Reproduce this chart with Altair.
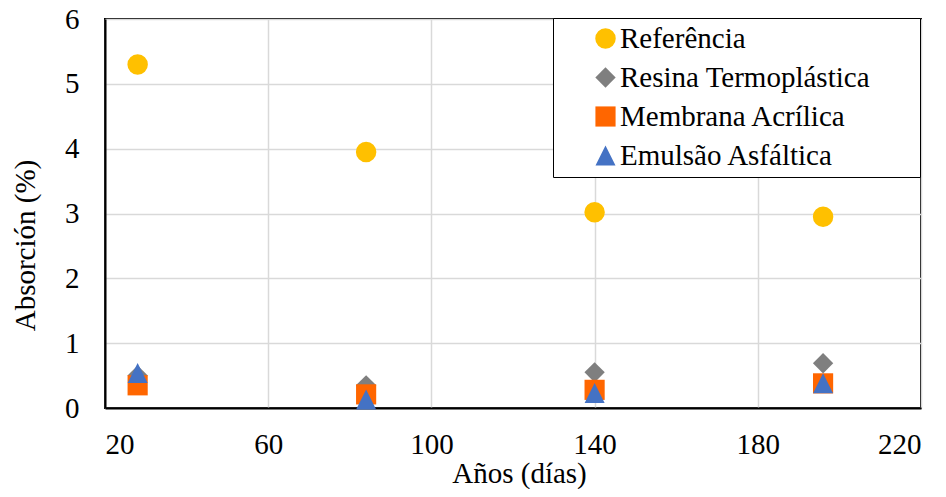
import altair as alt
import pandas as pd

days = [28, 84, 140, 196]
series_names = ["Referência", "Resina Termoplástica", "Membrana Acrílica", "Emulsão Asfáltica"]
referencia = [5.30, 3.95, 3.02, 2.95]
resina = [0.50, 0.35, 0.55, 0.69]
membrana = [0.35, 0.21, 0.28, 0.38]
emulsao = [0.54, 0.13, 0.23, 0.38]

colors = ["#FFC000", "#7F7F7F", "#FF6600", "#4472C4"]
shapes = ["circle", "diamond", "square", "M0,-1L-1,1L1,1Z"]
sizes = [420, 400, 400, 400]

rows = []
for i, (name, vals) in enumerate(zip(series_names, [referencia, resina, membrana, emulsao])):
    for d, v in zip(days, vals):
        rows.append({"dias": d, "abs": v, "serie": name, "order": i})
df = pd.DataFrame(rows)

font = "Liberation Serif"
fs = 29

chart = alt.Chart(df).mark_point(filled=True, opacity=1).encode(
    x=alt.X("dias:Q", title="Años (días)",
            scale=alt.Scale(domain=[20, 220], nice=False, zero=False),
            axis=alt.Axis(values=[20, 60, 100, 140, 180, 220], ticks=False, tickSize=0,
                          labelBaseline="alphabetic", labelPadding=45,
                          titleX=414, titleY=74, titleBaseline="alphabetic", grid=True)),
    y=alt.Y("abs:Q", title="Absorción (%)",
            scale=alt.Scale(domain=[0, 6], nice=False),
            axis=alt.Axis(values=[0, 1, 2, 3, 4, 5, 6], ticks=False, tickSize=0,
                          labelPadding=26, titleX=-80, titleY=226,
                          titleBaseline="middle", grid=True)),
    color=alt.Color("serie:N", scale=alt.Scale(domain=series_names, range=colors),
                    sort=series_names,
                    legend=alt.Legend(title=None, orient="none", legendX=448, legendY=-1,
                                      fillColor="white", strokeColor="black",
                                      padding=6, rowPadding=9, symbolOffset=32,
                                      labelOffset=0, symbolSize=289, labelLimit=500,
                                      labelExpr="datum.label + '\u00a0\u00a0\u00a0\u00a0\u00a0\u00a0\u200b'",
                                      labelFont=font, labelFontSize=fs, labelColor="black")),
    shape=alt.Shape("serie:N", scale=alt.Scale(domain=series_names, range=shapes),
                    sort=series_names),
    size=alt.Size("serie:N", scale=alt.Scale(domain=series_names, range=sizes), legend=None),
    order=alt.Order("order:Q"),
).properties(
    width=816, height=389,
    autosize=alt.AutoSizeParams(type="none"),
    padding={"left": 97, "top": 11, "right": 17, "bottom": 81},
).configure_view(
    stroke="black", strokeWidth=2
).configure_axis(
    labelFont=font, labelFontSize=fs, labelColor="black",
    titleFont=font, titleFontSize=fs, titleColor="black", titleFontWeight="normal",
    domainColor="black", domainWidth=2,
    gridColor="#d9d9d9", gridWidth=1.5,
)

chart.save("out.html", embed_options={"renderer": "svg", "actions": False})
